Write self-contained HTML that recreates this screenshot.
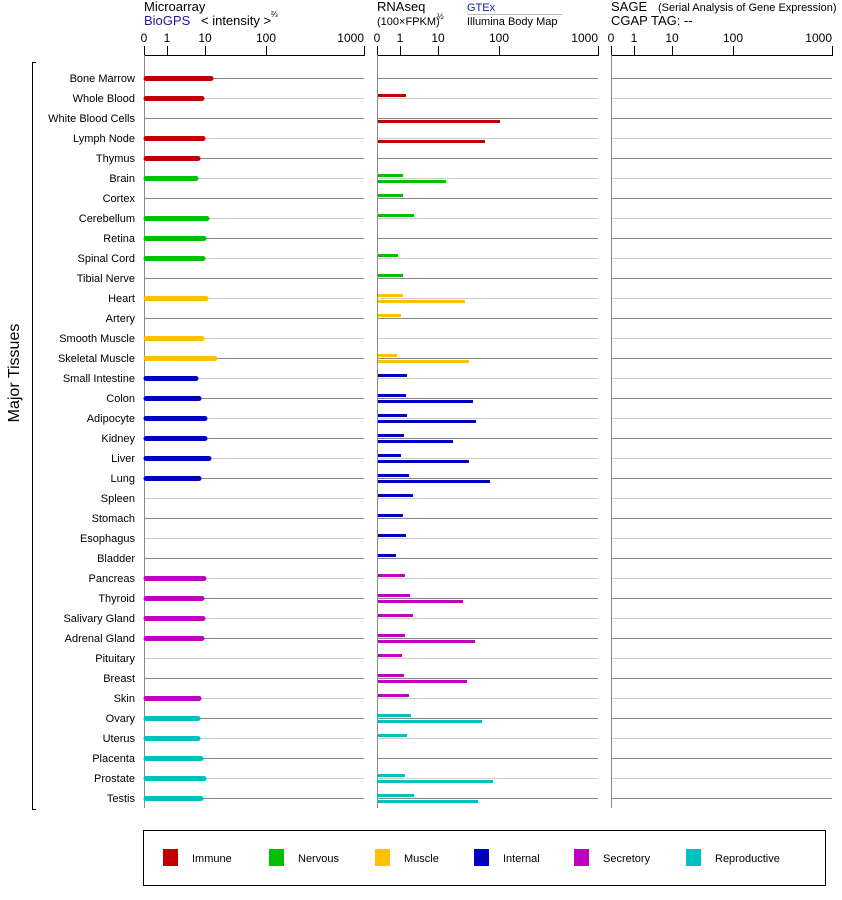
<!DOCTYPE html>
<html><head><meta charset="utf-8"><style>
body{margin:0;background:#fff}
svg{display:block;font-family:"Liberation Sans",Arial,sans-serif}
.l{font-size:11px;text-anchor:end;fill:#000}
.t{font-size:12px;fill:#000}
</style></head><body>
<svg width="842" height="900" viewBox="0 0 842 900">
<!-- headers -->
<text x="144" y="11" font-size="13">Microarray</text>
<text x="144" y="25" font-size="13" fill="#1a1aa0">BioGPS</text>
<text x="201" y="25" font-size="13">&lt; intensity &gt;</text>
<text x="271" y="17" font-size="8">⅔</text>
<text x="377" y="11" font-size="13">RNAseq</text>
<text x="377" y="25" font-size="11">(100×FPKM)</text>
<text x="437" y="19" font-size="8">½</text>
<text x="467" y="11" font-size="11" fill="#1a1aa0">GTEx</text>
<line x1="467" y1="14.5" x2="562" y2="14.5" stroke="#bbb"/>
<text x="467" y="25" font-size="11">Illumina Body Map</text>
<text x="611" y="11" font-size="13">SAGE</text>
<text x="658" y="11" font-size="11">(Serial Analysis of Gene Expression)</text>
<text x="611" y="25" font-size="13">CGAP TAG:  --</text>
<!-- axes -->
<g class="t">
<text x="144" y="42" text-anchor="middle">0</text><text x="167" y="42" text-anchor="middle">1</text><text x="205" y="42" text-anchor="middle">10</text><text x="266" y="42" text-anchor="middle">100</text><text x="364" y="42" text-anchor="end">1000</text>
<text x="377" y="42" text-anchor="middle">0</text><text x="400" y="42" text-anchor="middle">1</text><text x="438" y="42" text-anchor="middle">10</text><text x="499" y="42" text-anchor="middle">100</text><text x="598" y="42" text-anchor="end">1000</text>
<text x="611" y="42" text-anchor="middle">0</text><text x="634" y="42" text-anchor="middle">1</text><text x="672" y="42" text-anchor="middle">10</text><text x="733" y="42" text-anchor="middle">100</text><text x="832" y="42" text-anchor="end">1000</text>
</g>
<g stroke="#000" fill="none">
<path d="M144.5 55.5H364.5M144.5 46V56M167.5 46V56M205.5 46V56M266.5 46V56M364.5 46V56"/>
<path d="M377.5 55.5H598.5M377.5 46V56M400.5 46V56M438.5 46V56M499.5 46V56M598.5 46V56"/>
<path d="M611.5 55.5H832.5M611.5 46V56M634.5 46V56M672.5 46V56M733.5 46V56M832.5 46V56"/>
<path d="M36 62.5H32.5V809.5H36"/>
</g>
<text transform="translate(19,373) rotate(-90)" font-size="16" text-anchor="middle">Major Tissues</text>
<!-- row lines -->
<g stroke-width="1">
<path stroke="#888" d="M144 78.5H364M377 78.5H598M611 78.5H832M144 118.5H364M377 118.5H598M611 118.5H832M144 158.5H364M377 158.5H598M611 158.5H832M144 198.5H364M377 198.5H598M611 198.5H832M144 238.5H364M377 238.5H598M611 238.5H832M144 278.5H364M377 278.5H598M611 278.5H832M144 318.5H364M377 318.5H598M611 318.5H832M144 358.5H364M377 358.5H598M611 358.5H832M144 398.5H364M377 398.5H598M611 398.5H832M144 438.5H364M377 438.5H598M611 438.5H832M144 478.5H364M377 478.5H598M611 478.5H832M144 518.5H364M377 518.5H598M611 518.5H832M144 558.5H364M377 558.5H598M611 558.5H832M144 598.5H364M377 598.5H598M611 598.5H832M144 638.5H364M377 638.5H598M611 638.5H832M144 678.5H364M377 678.5H598M611 678.5H832M144 718.5H364M377 718.5H598M611 718.5H832M144 758.5H364M377 758.5H598M611 758.5H832M144 798.5H364M377 798.5H598M611 798.5H832"/>
<path stroke="#ccc" d="M144 98.5H364M377 98.5H598M611 98.5H832M144 138.5H364M377 138.5H598M611 138.5H832M144 178.5H364M377 178.5H598M611 178.5H832M144 218.5H364M377 218.5H598M611 218.5H832M144 258.5H364M377 258.5H598M611 258.5H832M144 298.5H364M377 298.5H598M611 298.5H832M144 338.5H364M377 338.5H598M611 338.5H832M144 378.5H364M377 378.5H598M611 378.5H832M144 418.5H364M377 418.5H598M611 418.5H832M144 458.5H364M377 458.5H598M611 458.5H832M144 498.5H364M377 498.5H598M611 498.5H832M144 538.5H364M377 538.5H598M611 538.5H832M144 578.5H364M377 578.5H598M611 578.5H832M144 618.5H364M377 618.5H598M611 618.5H832M144 658.5H364M377 658.5H598M611 658.5H832M144 698.5H364M377 698.5H598M611 698.5H832M144 738.5H364M377 738.5H598M611 738.5H832M144 778.5H364M377 778.5H598M611 778.5H832"/>
<path stroke="#888" d="M144.5 55V808M377.5 55V808M611.5 55V808"/>
</g>
<!-- labels -->
<g class="l">
<text x="135" y="82">Bone Marrow</text><text x="135" y="102">Whole Blood</text><text x="135" y="122">White Blood Cells</text><text x="135" y="142">Lymph Node</text><text x="135" y="162">Thymus</text><text x="135" y="182">Brain</text><text x="135" y="202">Cortex</text><text x="135" y="222">Cerebellum</text><text x="135" y="242">Retina</text><text x="135" y="262">Spinal Cord</text><text x="135" y="282">Tibial Nerve</text><text x="135" y="302">Heart</text><text x="135" y="322">Artery</text><text x="135" y="342">Smooth Muscle</text><text x="135" y="362">Skeletal Muscle</text><text x="135" y="382">Small Intestine</text><text x="135" y="402">Colon</text><text x="135" y="422">Adipocyte</text><text x="135" y="442">Kidney</text><text x="135" y="462">Liver</text><text x="135" y="482">Lung</text><text x="135" y="502">Spleen</text><text x="135" y="522">Stomach</text><text x="135" y="542">Esophagus</text><text x="135" y="562">Bladder</text><text x="135" y="582">Pancreas</text><text x="135" y="602">Thyroid</text><text x="135" y="622">Salivary Gland</text><text x="135" y="642">Adrenal Gland</text><text x="135" y="662">Pituitary</text><text x="135" y="682">Breast</text><text x="135" y="702">Skin</text><text x="135" y="722">Ovary</text><text x="135" y="742">Uterus</text><text x="135" y="762">Placenta</text><text x="135" y="782">Prostate</text><text x="135" y="802">Testis</text>
</g>
<!-- microarray bars -->
<g stroke-width="5" stroke-linecap="round">
<g stroke="#c00000"><path d="M146 78.5H211M146 98.5H202M146 138.5H203M146 158.5H198"/></g>
<g stroke="#00c000"><path d="M146 178.5H196M146 218.5H207M146 238.5H204M146 258.5H203"/></g>
<g stroke="#ffc000"><path d="M146 298.5H206M146 338.5H202M146 358.5H215"/></g>
<g stroke="#0000c0"><path d="M146 378.5H196M146 398.5H199M146 418.5H205M146 438.5H205M146 458.5H209M146 478.5H199"/></g>
<g stroke="#c000c0"><path d="M146 578.5H204M146 598.5H202M146 618.5H203M146 638.5H202M146 698.5H199"/></g>
<g stroke="#00c0c0"><path d="M146 718.5H198M146 738.5H198M146 758.5H201M146 778.5H204M146 798.5H201"/></g>
</g>
<!-- RNAseq bars: GTEx at row-4..-1, Illumina row+2..+5 -->
<g stroke-width="3">
<g stroke="#c00000"><path d="M378 95.5H406M378 121.5H500M378 141.5H485"/></g>
<g stroke="#00c000"><path d="M378 175.5H403M378 181.5H446M378 195.5H403M378 215.5H414M378 255.5H398M378 275.5H403"/></g>
<g stroke="#ffc000"><path d="M378 295.5H403M378 301.5H465M378 315.5H401M378 355.5H397M378 361.5H469"/></g>
<g stroke="#0000c0"><path d="M378 375.5H407M378 395.5H406M378 401.5H473M378 415.5H407M378 421.5H476M378 435.5H404M378 441.5H453M378 455.5H401M378 461.5H469M378 475.5H409M378 481.5H490M378 495.5H413M378 515.5H403M378 535.5H406M378 555.5H396"/></g>
<g stroke="#c000c0"><path d="M378 575.5H405M378 595.5H410M378 601.5H463M378 615.5H413M378 635.5H405M378 641.5H475M378 655.5H402M378 675.5H404M378 681.5H467M378 695.5H409"/></g>
<g stroke="#00c0c0"><path d="M378 715.5H411M378 721.5H482M378 735.5H407M378 775.5H405M378 781.5H493M378 795.5H414M378 801.5H478"/></g>
</g>
<!-- legend -->
<rect x="143.5" y="830.5" width="682" height="55" fill="none" stroke="#000"/>
<g font-size="11">
<rect x="163" y="849" width="15" height="17" fill="#c00000"/><text x="192" y="862">Immune</text>
<rect x="269" y="849" width="15" height="17" fill="#00c000"/><text x="298" y="862">Nervous</text>
<rect x="375" y="849" width="15" height="17" fill="#ffc000"/><text x="404" y="862">Muscle</text>
<rect x="474" y="849" width="15" height="17" fill="#0000c0"/><text x="503" y="862">Internal</text>
<rect x="574" y="849" width="15" height="17" fill="#c000c0"/><text x="603" y="862">Secretory</text>
<rect x="686" y="849" width="15" height="17" fill="#00c0c0"/><text x="715" y="862">Reproductive</text>
</g>
</svg>
</body></html>
